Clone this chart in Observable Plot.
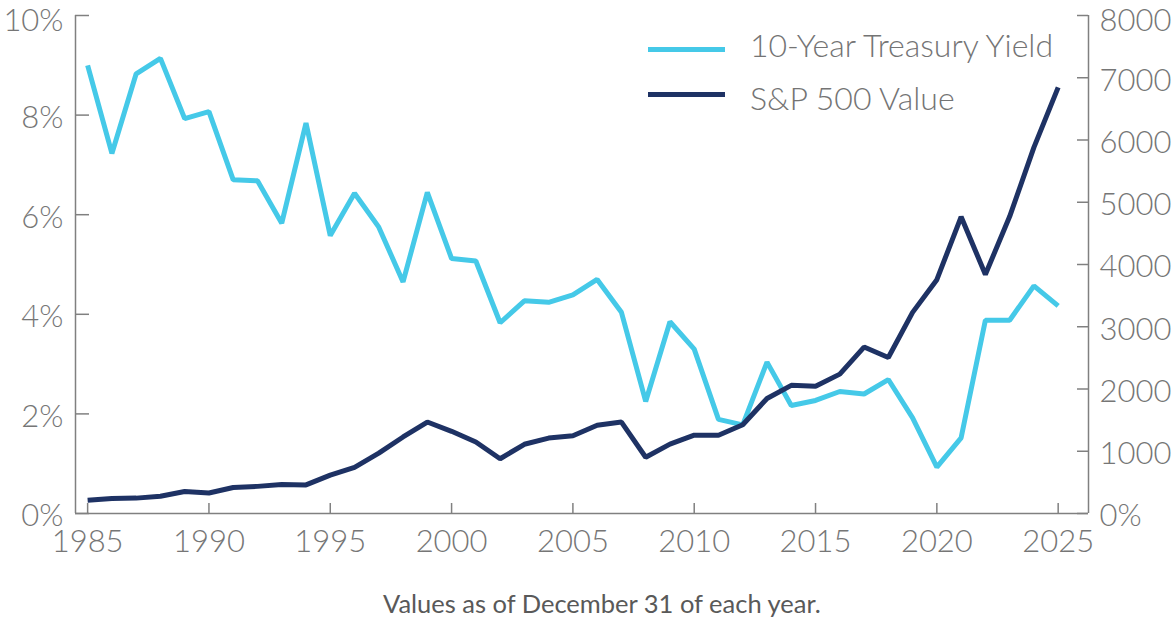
<!DOCTYPE html>
<html>
<head>
<meta charset="utf-8">
<script src="https://cdn.jsdelivr.net/npm/d3@7"></script>
<script src="https://cdn.jsdelivr.net/npm/@observablehq/plot@0.6"></script>
<style>
  html, body { margin: 0; padding: 0; background: #fff; }
  #wrap { position: relative; width: 1172px; height: 620px; font-family: Lato, "Noto Sans", sans-serif; }
  #chart svg { overflow: visible; }
  #chart svg text { font-family: Lato, sans-serif; font-weight: 300; }
  .sw { position: absolute; left: 648px; width: 77px; height: 5px; }
  .lt { position: absolute; left: 750px; font-family: Lato, sans-serif; font-weight: 300; font-size: 32px; line-height: 32px; color: #747474; white-space: nowrap; }
  #caption { position: absolute; left: 383px; top: 591px; font-family: Lato, sans-serif; font-weight: 400; font-size: 25.5px; line-height: 25.5px; color: #595959; white-space: nowrap; }
</style>
</head>
<body>
<div id="wrap">
  <div id="chart"></div>
  <div id="legend"></div>
  <div id="caption">Values as of December 31 of each year.</div>
</div>
<script>
const years = [1985,1986,1987,1988,1989,1990,1991,1992,1993,1994,1995,1996,1997,1998,1999,2000,2001,2002,2003,2004,2005,2006,2007,2008,2009,2010,2011,2012,2013,2014,2015,2016,2017,2018,2019,2020,2021,2022,2023,2024,2025];
const treasuryYield = [9.00,7.23,8.83,9.14,7.93,8.07,6.70,6.68,5.83,7.84,5.58,6.43,5.75,4.65,6.45,5.12,5.07,3.83,4.27,4.24,4.39,4.70,4.04,2.25,3.85,3.30,1.89,1.78,3.04,2.17,2.27,2.45,2.40,2.69,1.92,0.93,1.52,3.88,3.88,4.57,4.17];
const sp500 = [211.28,242.17,247.08,277.72,353.40,330.22,417.09,435.71,466.45,459.27,615.93,740.74,970.43,1229.23,1469.25,1320.28,1148.08,879.82,1111.92,1211.92,1248.29,1418.30,1468.36,903.25,1115.10,1257.64,1257.60,1426.19,1848.36,2058.90,2043.94,2238.83,2673.61,2506.85,3230.78,3756.07,4766.18,3839.50,4769.83,5881.63,6845.50];
const seriesNames = ["10-Year Treasury Yield", "S&P 500 Value"];
const seriesColors = ["#45c9e8", "#1e3264"];
const xTicks = [1985,1990,1995,2000,2005,2010,2015,2020,2025];
const yTicks = [0,2,4,6,8,10];
const spTicks = [0,1000,2000,3000,4000,5000,6000,7000,8000];
const spMax = 8000, yMax = 10;
const xDomain = [1984.5, 2026.25];

const width = 1172, height = 570, mt = 15, mb = 57, ml = 75, mr = 84;
const fw = width - ml - mr, fh = height - mt - mb;
const toY = v => v * yMax / spMax;
const axisColor = "#808080", textColor = "#767676";
const spLabel = v => v === 0 ? "0%" : String(v);

const data = years.map((yr, i) => ({year: yr, yld: treasuryYield[i], sp: sp500[i]}));

const leftAxis = (ticks, dy) => Plot.axisY(ticks, {anchor: "left", tickSize: 0, tickPadding: 12, dy, tickFormat: d => d + "%", label: null, fill: textColor});
const rightAxis = (ticks, dy) => Plot.axisY(ticks.map(toY), {anchor: "right", tickSize: 0, tickPadding: 11, dy, tickFormat: (d, i) => spLabel(ticks[i]), label: null, fill: textColor});

const plot = Plot.plot({
  width, height, marginTop: mt, marginBottom: mb, marginLeft: ml, marginRight: mr,
  style: {fontFamily: "Lato, sans-serif", fontSize: "31px", color: textColor, background: "white", overflow: "visible"},
  x: {domain: xDomain, nice: false},
  y: {domain: [0, yMax], nice: false},
  marks: [
    Plot.ruleY([0], {stroke: axisColor, strokeWidth: 1.5}),
    Plot.ruleX([xDomain[0], xDomain[1]], {stroke: axisColor, strokeWidth: 1.5}),
    Plot.tickY(yTicks, {y: d => d, stroke: axisColor, strokeWidth: 1.5, insetRight: fw - 14}),
    Plot.tickY(spTicks, {y: d => toY(d), stroke: axisColor, strokeWidth: 1.5, insetLeft: fw - 11}),
    Plot.tickX(xTicks, {x: d => d, stroke: axisColor, strokeWidth: 1.5, insetTop: fh - 10}),
    leftAxis(yTicks.slice(0, -1), 3),
    leftAxis(yTicks.slice(-1), 6),
    rightAxis(spTicks.slice(0, -1), 3),
    rightAxis(spTicks.slice(-1), 6),
    Plot.axisX(xTicks, {tickSize: 0, tickPadding: 16, tickFormat: d => String(d), label: null, fill: textColor}),
    Plot.line(data, {x: "year", y: "yld", stroke: seriesColors[0], strokeWidth: 5, strokeLinejoin: "miter", strokeLinecap: "butt"}),
    Plot.line(data, {x: "year", y: d => toY(d.sp), stroke: seriesColors[1], strokeWidth: 5, strokeLinejoin: "miter", strokeLinecap: "butt"})
  ]
});
document.getElementById("chart").appendChild(plot);

// legend: swatch centres and text cap-centres as in the reference
const swatchTops = [46.5, 91.5];
const textTops = [29, 81.5];
const legend = document.getElementById("legend");
seriesNames.forEach((name, i) => {
  const sw = document.createElement("div");
  sw.className = "sw";
  sw.style.top = swatchTops[i] + "px";
  sw.style.background = seriesColors[i];
  const label = document.createElement("div");
  label.className = "lt";
  label.style.top = textTops[i] + "px";
  label.textContent = name;
  legend.appendChild(sw);
  legend.appendChild(label);
});
</script>
</body>
</html>
